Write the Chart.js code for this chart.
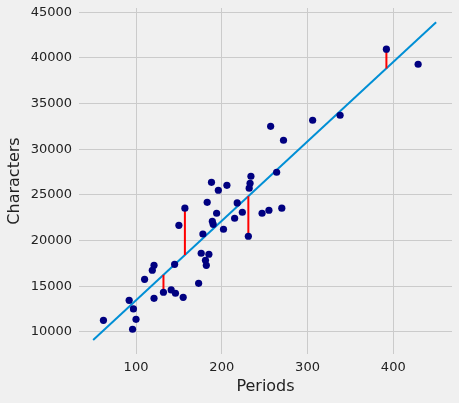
<!DOCTYPE html>
<html>
<head>
<meta charset="utf-8">
<script src="https://cdn.jsdelivr.net/npm/chart.js@4/dist/chart.umd.min.js"></script>
<style>
  html, body { margin: 0; padding: 0; background: #f0f0f0; }
  #wrap { width: 459px; height: 403px; }
</style>
</head>
<body>
<div id="wrap"><canvas id="chart" width="459" height="403"></canvas></div>
<script>
// periods vs characters
const periods = [62, 92, 97, 100, 96, 110, 119, 121, 121, 132, 141, 146, 155, 145, 150, 157,
  173, 176, 181, 182, 185, 178, 189, 190, 194, 183, 188, 196, 206, 202, 215, 218, 224,
  231, 232, 233, 234, 247, 255, 270, 264, 257, 272, 306, 338, 392, 429]
const characters = [11280, 13470, 12520, 11390, 10300, 15770, 16760, 17300, 13690, 14350, 14600,
  14240, 13800, 17410, 21680, 23550, 15330, 18620, 17850, 17300, 18510, 20730, 22120, 21790,
  23000, 24200, 26390, 25520, 26060, 21250, 22450, 24130, 23110, 20480, 25740, 26280, 27050,
  23000, 23330, 23550, 27490, 32520, 30990, 33180, 33730, 40960, 39310]

// fitted line end points
const fitX = [50, 450]
const fitY = [9120, 43900]

// points that get a red residual line
const residualIdx = [9, 15, 33, 45]

const xTicks = [100, 200, 300, 400]
const yTicks = [10000, 15000, 20000, 25000, 30000, 35000, 40000, 45000]

const fitAt = (x) => fitY[0] + (fitY[1] - fitY[0]) * (x - fitX[0]) / (fitX[1] - fitX[0])

const points = periods.map((p, i) => ({ x: p, y: characters[i] }))

const residualSets = residualIdx.map((i) => ({
  type: "line",
  data: [{ x: periods[i], y: characters[i] }, { x: periods[i], y: fitAt(periods[i]) }],
  borderColor: "#ff0000",
  borderWidth: 2,
  pointRadius: 0,
  order: 1,
}))

const family = "'DejaVu Sans', sans-serif"
const tickFont = { family: family, size: 13 }
const titleFont = { family: family, size: 16 }
const textColor = "#222"
const gridColor = "#cbcbcb"

new Chart(document.getElementById("chart"), {
  type: "scatter",
  data: {
    datasets: [
      {
        data: points,
        backgroundColor: "#000080",
        borderWidth: 0,
        pointRadius: 3.6,
        pointHoverRadius: 3.6,
        order: 0,
      },
      ...residualSets,
      {
        type: "line",
        data: fitX.map((x, i) => ({ x: x, y: fitY[i] })),
        borderColor: "#008fd5",
        borderWidth: 2,
        pointRadius: 0,
        order: 2,
      },
    ],
  },
  options: {
    responsive: false,
    animation: false,
    layout: { padding: { left: 0, top: 8, right: 7, bottom: 0 } },
    plugins: {
      legend: { display: false },
      tooltip: { enabled: false },
    },
    scales: {
      x: {
        type: "linear",
        min: 33.5,
        max: 468.5,
        afterBuildTicks: (scale) => { scale.ticks = xTicks.map((v) => ({ value: v })) },
        afterFit: (scale) => {
          scale.height = 49
          scale.paddingLeft = 0
          scale.paddingRight = 0
        },
        grid: { color: gridColor, lineWidth: 1, drawTicks: false },
        border: { display: false },
        ticks: { color: textColor, font: tickFont, padding: 6 },
        title: {
          display: true,
          text: "Periods",
          color: textColor,
          font: titleFont,
          padding: { top: 0, bottom: 7 },
        },
      },
      y: {
        type: "linear",
        min: 7590,
        max: 45470,
        afterBuildTicks: (scale) => { scale.ticks = yTicks.map((v) => ({ value: v })) },
        afterFit: (scale) => {
          scale.width = 79
          scale.paddingTop = 0
          scale.paddingBottom = 0
        },
        grid: { color: gridColor, lineWidth: 1, drawTicks: false },
        border: { display: false },
        ticks: { color: textColor, font: tickFont, padding: 7, callback: (v) => String(v) },
        title: {
          display: true,
          text: "Characters",
          color: textColor,
          font: titleFont,
          padding: { top: 5.5, bottom: 0 },
        },
      },
    },
  },
})
</script>
</body>
</html>
